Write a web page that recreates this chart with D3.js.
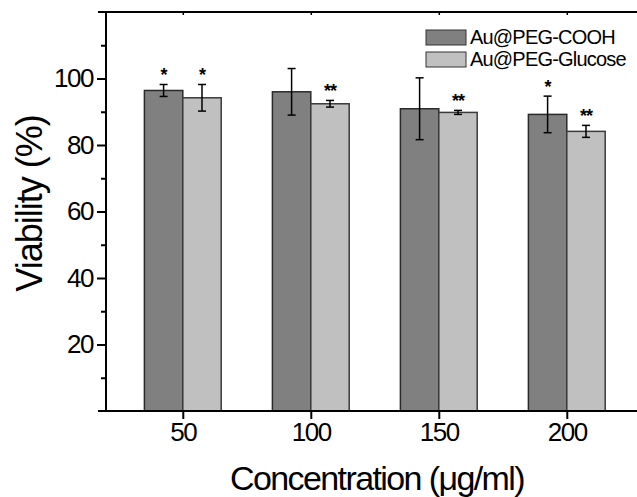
<!DOCTYPE html>
<html><head><meta charset="utf-8">
<script src="https://cdn.jsdelivr.net/npm/d3@7"></script>
<style>
html,body{margin:0;padding:0;background:#fff;}
svg{display:block;font-family:"Liberation Sans",Arial,sans-serif;}
</style></head>
<body>
<svg id="chart" width="637" height="497"></svg>
<script>
const concentrations = [50, 100, 150, 200];
const seriesNames = ["Au@PEG-COOH", "Au@PEG-Glucose"];
const coohValues = [96.4, 96.0, 90.9, 89.2];
const coohErrors = [1.8, 7.0, 9.3, 5.5];
const glucoseValues = [94.2, 92.4, 89.8, 84.1];
const glucoseErrors = [4.0, 1.0, 0.6, 1.8];
const coohSignif = ["*", "", "", "*"];
const glucoseSignif = ["*", "**", "**", "**"];
const yTicks = [20, 40, 60, 80, 100];
const yMinorTicks = [10, 30, 50, 70, 90, 110];

const svg = d3.select("#chart");
const x = d3.scaleLinear().domain([20, 230]).range([106, 643.6]);
const y = d3.scaleLinear().domain([0, 120]).range([411, 12]);
const barW = 15;
const colors = ["#808080", "#c0c0c0"];
const strokes = ["#2a2a2a", "#3a3a3a"];

const series = [
  {name: seriesNames[0], values: coohValues, errors: coohErrors, sig: coohSignif, offset: -barW},
  {name: seriesNames[1], values: glucoseValues, errors: glucoseErrors, sig: glucoseSignif, offset: 0}
];

series.forEach((s, si) => {
  const g = svg.append("g");
  concentrations.forEach((c, i) => {
    const x0 = x(c + s.offset), x1 = x(c + s.offset + barW);
    g.append("rect").attr("x", x0).attr("y", y(s.values[i]))
      .attr("width", x1 - x0).attr("height", y(0) - y(s.values[i]))
      .attr("fill", colors[si]).attr("stroke", strokes[si]).attr("stroke-width", 1.5);
    const cx = x(c + s.offset + barW / 2);
    const yt = y(s.values[i] + s.errors[i]), yb = y(s.values[i] - s.errors[i]);
    g.append("line").attr("x1", cx).attr("x2", cx).attr("y1", yt).attr("y2", yb).attr("stroke", "#000").attr("stroke-width", 1.5);
    [yt, yb].forEach(yy => g.append("line").attr("x1", cx - 4).attr("x2", cx + 4).attr("y1", yy).attr("y2", yy).attr("stroke", "#000").attr("stroke-width", 1.5));
    if (s.sig[i]) {
      g.append("text").attr("x", cx).attr("y", yt - 3).attr("text-anchor", "middle")
        .attr("font-size", 18).attr("font-weight", "bold").attr("letter-spacing", -1).text(s.sig[i]);
    }
  });
});

// Axes
const ax = svg.append("g").attr("stroke", "#000").attr("stroke-width", 2);
ax.append("line").attr("x1", 98).attr("x2", 637).attr("y1", y(0)).attr("y2", y(0));
ax.append("line").attr("x1", 98).attr("x2", 637).attr("y1", y(120)).attr("y2", y(120));
ax.append("line").attr("x1", x(20)).attr("x2", x(20)).attr("y1", y(120)).attr("y2", y(0) + 1);

const yAxis = svg.append("g").attr("transform", `translate(${x(20)},0)`)
  .call(d3.axisLeft(y).tickValues(yTicks).tickSize(9).tickPadding(4));
yAxis.select(".domain").remove();
yAxis.selectAll("line").attr("stroke-width", 2);
yAxis.selectAll("text").attr("font-size", 26).attr("letter-spacing", -1.5).attr("font-family", "Liberation Sans, Arial, sans-serif").attr("fill", "#000");
const yMinor = svg.append("g").attr("transform", `translate(${x(20)},0)`)
  .call(d3.axisLeft(y).tickValues(yMinorTicks).tickSize(5).tickFormat(""));
yMinor.select(".domain").remove();
yMinor.selectAll("line").attr("stroke-width", 2);

const xAxis = svg.append("g").attr("transform", `translate(0,${y(0)})`)
  .call(d3.axisBottom(x).tickValues(concentrations).tickSize(8).tickPadding(4).tickFormat(d3.format("d")));
xAxis.select(".domain").remove();
xAxis.selectAll("line").attr("stroke-width", 2);
xAxis.selectAll("text").attr("font-size", 26).attr("letter-spacing", -1.5).attr("font-family", "Liberation Sans, Arial, sans-serif").attr("fill", "#000");
const xTop = svg.append("g").attr("transform", `translate(0,${y(120)})`)
  .call(d3.axisBottom(x).tickValues(concentrations).tickSize(3).tickFormat(""));
xTop.select(".domain").remove();
xTop.selectAll("line").attr("stroke-width", 1.5);

// Titles
svg.append("text").attr("x", 377).attr("y", 490).attr("text-anchor", "middle")
  .attr("font-size", 34).attr("letter-spacing", -1.6).text("Concentration (\u03bcg/ml)");
svg.append("text").attr("transform", `translate(42,${(y(0) + y(120)) / 2 - 8}) rotate(-90)`)
  .attr("text-anchor", "middle").attr("font-size", 36).attr("letter-spacing", -1).text("Viability (%)");

// Legend
const leg = svg.append("g");
seriesNames.forEach((n, i) => {
  const yy = 30 + i * 22;
  leg.append("rect").attr("x", 426).attr("y", yy).attr("width", 40).attr("height", 15)
    .attr("fill", colors[i]).attr("stroke", "#333").attr("stroke-width", 1);
  leg.append("text").attr("x", 470).attr("y", yy + 14).attr("font-size", 20).attr("letter-spacing", -0.8).text(n);
});
</script>
</body></html>
